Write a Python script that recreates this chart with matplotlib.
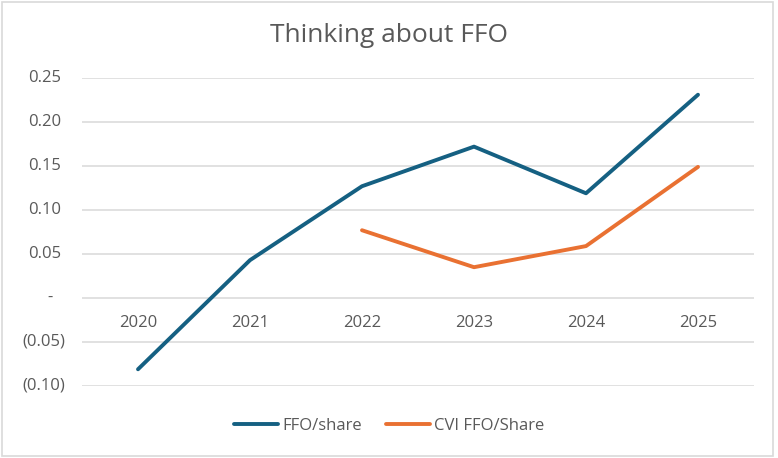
import numpy as np
import matplotlib.pyplot as plt
from matplotlib.patches import Rectangle
from matplotlib.transforms import blended_transform_factory

plt.rcParams['font.family'] = ['Open Sans', 'DejaVu Sans']

# datos
years = ['2020', '2021', '2022', '2023', '2024', '2025']
ffo_share = [-0.081, 0.043, 0.127, 0.172, 0.119, 0.231]
cvi_ffo = [np.nan, np.nan, 0.077, 0.035, 0.059, 0.149]
yticks = [-0.10, -0.05, 0.0, 0.05, 0.10, 0.15, 0.20, 0.25]

txt = '#595959'
grid = '#d9d9d9'

fig = plt.figure(figsize=(7.78, 4.58), dpi=100)
fig.patches.append(Rectangle((0.003, 0.004), 0.991, 0.992, transform=fig.transFigure,
                             fill=False, edgecolor=grid, linewidth=1.2))

ax = fig.add_axes([82/778, 1-386/458, 672/778, 308/458])
x = np.arange(len(years))
ax.plot(x, ffo_share, color='#156082', lw=2.8, solid_capstyle='round',
        solid_joinstyle='round', label='FFO/share')
ax.plot(x, cvi_ffo, color='#E97132', lw=2.8, solid_capstyle='round',
        solid_joinstyle='round', label='CVI FFO/Share')

ax.set_xlim(-0.5, len(years) - 0.5)
ax.set_ylim(-0.10, 0.25)
for v in yticks:
    ax.axhline(v, color=grid, lw=1.1, zorder=0)
for s in ax.spines.values():
    s.set_visible(False)
ax.set_xticks([])
ax.set_yticks([])

# etiquetas eje y (formato contable)
tr = blended_transform_factory(fig.transFigure, ax.transData)
for v in yticks:
    if abs(v) < 1e-9:
        lab, xp = '-', 53
    elif v < 0:
        lab, xp = '(%.2f)' % abs(v), 65
    else:
        lab, xp = '%.2f' % v, 61
    ax.text(xp/778, v, lab, transform=tr, ha='right', va='center',
            fontsize=12, color=txt)

# años junto al eje cero
for i, yr in enumerate(years):
    ax.annotate(yr, (i, 0), xytext=(0, -25), textcoords='offset pixels',
                ha='center', va='center', fontsize=12, color=txt)

fig.text(0.5, 1-36/458, 'Thinking about FFO', ha='center', va='center',
         fontsize=19, color=txt)

fig.legend(loc='center', bbox_to_anchor=(0.5, 1-426/458), ncol=2, frameon=False,
           fontsize=12, labelcolor=txt, handlelength=2.65, handletextpad=0.25,
           columnspacing=1.45)

fig.savefig('out.png', dpi=100)
